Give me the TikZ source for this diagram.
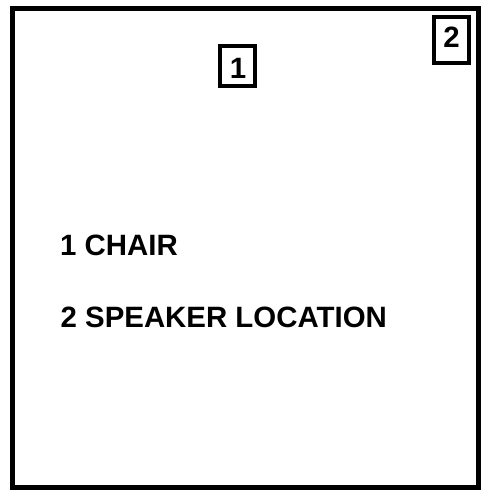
\documentclass[tikz,border=0pt]{standalone}
\usepackage{fontspec}
\setmainfont{Liberation Sans}
\begin{document}
\begin{tikzpicture}[x=1pt,y=-1pt,
  frame/.style={draw, line width=5pt},
  numbox/.style={draw, line width=4.5pt, inner sep=0pt},
  lbl/.style={inner sep=0pt, font=\fontsize{29.4}{34}\selectfont\bfseries},
  numtxt/.style={inner sep=0pt, font=\fontsize{29.4}{34}\selectfont\bfseries}]
\useasboundingbox (0,0) rectangle (500,500);
\node[frame, minimum width=466pt, minimum height=479pt] (outer) at (245.5,248) {};
\node[numbox, minimum width=35pt, minimum height=46pt] (box2) at (451.5,40) {};
\node[numtxt] (t2) at (451.5,37) {2};
\node[numbox, minimum width=35pt, minimum height=40pt] (box1) at (237.5,66) {};
\node[numtxt] (t1) at (238,68) {1};
\node[lbl, anchor=base west] (l1) at (60,255.5) {1 CHAIR};
\node[lbl, anchor=base west] (l2) at (60.5,327.5) {2 SPEAKER LOCATION};
\end{tikzpicture}
\end{document}
